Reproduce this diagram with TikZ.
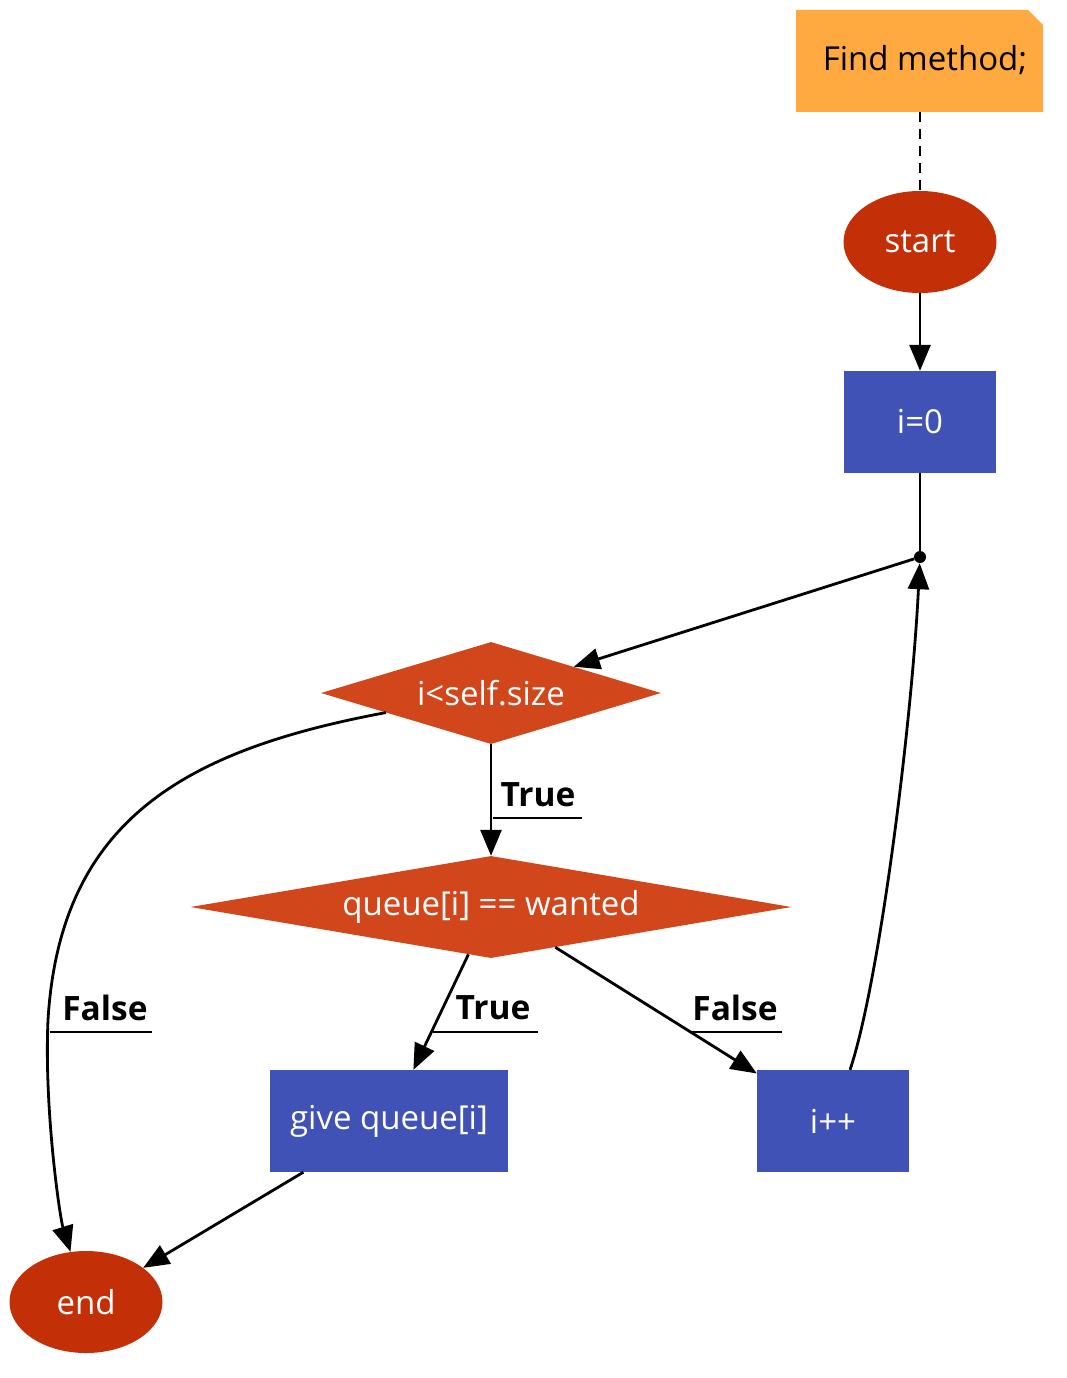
\documentclass[tikz,border=0pt]{standalone}
\usepackage{fontspec}
\setmainfont{Open Sans}
\usetikzlibrary{shapes.geometric,shapes.misc,arrows.meta}
\definecolor{noteor}{HTML}{FFAA40}
\definecolor{ellred}{HTML}{C32F06}
\definecolor{diared}{HTML}{D1461A}
\definecolor{rectblue}{HTML}{4052B5}
\begin{document}
\begin{tikzpicture}[x=1pt,y=-1pt,
  every node/.style={font=\fontsize{33}{38}\selectfont},
  term/.style={ellipse,fill=ellred,text=white,minimum width=153,minimum height=102,inner sep=0},
  proc/.style={rectangle,fill=rectblue,text=white,minimum height=102,inner sep=0},
  cond/.style={diamond,fill=diared,text=white,inner sep=0},
  lbl/.style={font=\fontsize{33.5}{38}\selectfont\bfseries,inner sep=0},
  edge/.style={line width=2.8pt,-{Triangle[length=26pt,width=21pt]}},
  plain/.style={line width=2.8pt},
  uline/.style={line width=2.2pt}
]
\useasboundingbox (0,0) rectangle (1067,1378);
% note
\fill[noteor] (796,10) -- (1028,10) -- (1043,25) -- (1043,112) -- (796,112) -- cycle;
\node[inner sep=0] (note) at (925,60) {Find method;};
\coordinate (notebot) at (920,112);
% nodes
\node[term] (start) at (920,242) {start};
\node[proc,minimum width=152] (i0) at (920,422) {i=0};
\node[circle,fill=black,minimum size=12,inner sep=0] (dot) at (920,557) {};
\node[cond,shape aspect=3.333,minimum width=340,minimum height=102] (d1) at (491,693) {i<self.size};
\node[cond,shape aspect=5.89,minimum width=601,minimum height=102] (d2) at (491,907) {queue[i] == wanted};
\node[proc,minimum width=238] (give) at (389,1121) {give queue[i]};
\node[proc,minimum width=152] (ipp) at (833,1121) {i++};
\node[term] (end) at (86,1302) {end};
% connectors
\draw[plain,dash pattern=on 10pt off 7pt] (notebot) -- (start);
\draw[edge] (start) -- (i0);
\draw[plain] (i0) -- (dot);
\draw[edge] (dot) -- (d1);
\draw[edge] (d1) .. controls (185,750) and (60,820) .. (48,1020) .. controls (44,1110) and (60,1218) .. (end);
\draw[edge] (d1) -- (d2);
\draw[edge] (d2) -- (give);
\draw[edge] (d2) -- (ipp);
\draw[edge] (ipp) .. controls (880,980) and (912,720) .. (dot);
\draw[edge] (give) -- (end);
% labels
\node[lbl] (t1) at (538,795) {True};
\coordinate (t1a) at (493,818); \coordinate (t1b) at (582,818);
\draw[uline] (t1a) -- (t1b);
\node[lbl] (f1) at (105,1008) {False};
\coordinate (f1a) at (50,1032); \coordinate (f1b) at (152,1032);
\draw[uline] (f1a) -- (f1b);
\node[lbl] (t2) at (493,1008) {True};
\coordinate (t2a) at (433,1032); \coordinate (t2b) at (538,1032);
\draw[uline] (t2a) -- (t2b);
\node[lbl] (f2) at (735,1008) {False};
\coordinate (f2a) at (692,1032); \coordinate (f2b) at (782,1032);
\draw[uline] (f2a) -- (f2b);
\end{tikzpicture}
\end{document}
